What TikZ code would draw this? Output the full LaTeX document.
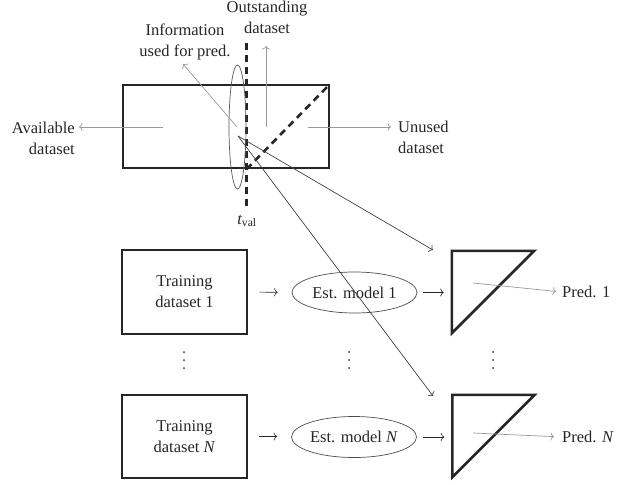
\documentclass[tikz,border=0pt]{standalone}
\usepackage{amsmath}
\usepackage{fontspec}
\setmainfont{Liberation Serif}
\usetikzlibrary{arrows.meta,shapes.geometric}
\begin{document}
\begin{tikzpicture}[x=1pt,y=-1pt,
  every node/.style={font=\fontsize{16.5}{21}\selectfont, text=black!85},
  thickbox/.style={draw=black!85, line width=2.6pt, rectangle, inner sep=0pt, align=center},
  txt/.style={inner sep=0pt, align=center},
  garrow/.style={draw=black!40, line width=0.7pt, -{To[length=3.5pt,width=8pt]}},
  karrow/.style={draw=black!75, line width=0.7pt, -{To[length=3.5pt,width=8pt]}},
  flowarrow/.style={draw=black!85, line width=0.6pt, -{To[length=3.5pt,width=8pt]}},
  dashline/.style={draw=black!85, line width=2.6pt, dash pattern=on 7pt off 5pt},
  estell/.style={draw=black!70, line width=0.7pt, ellipse, inner sep=0pt, minimum width=125pt, minimum height=41pt},
  trinode/.style={rectangle, inner sep=0pt, minimum width=82pt, minimum height=82pt},
  tri/.style={draw=black!85, line width=2.6pt, line join=miter},
  dotmark/.style={fill=black!80, circle, inner sep=0pt, minimum size=2pt}
]
\useasboundingbox (0,0) rectangle (628,484);

% top part
\node[thickbox, minimum width=206pt, minimum height=83pt] (data) at (226,126.5) {};
\coordinate (vtop) at (246.5,43);
\coordinate (vbot) at (246.5,210);
\draw[dashline] (vtop) -- (vbot);
\draw[dashline] (vtop |- data.south) -- (data.north east);
\node[draw=black!65, line width=0.7pt, ellipse, inner sep=0pt, minimum width=17pt, minimum height=124pt] (infoe) at (237.5,127) {};
\node[txt] (tval) at (247,221) {$\textit{t}_{\text{val}}$};

\node[txt, align=right, anchor=east] (avail) at (75,138) {Available\\dataset};
\node[txt, align=left, anchor=west] (unused) at (398,137.5) {Unused\\dataset};
\node[txt] (outs) at (267,17) {Outstanding\\dataset};
\node[txt] (info) at (185,42) {Information\\used for pred.};

\coordinate (aS) at (163,127);
\coordinate (aE) at (79,127);
\coordinate (uS) at (308,127);
\coordinate (uE) at (391,127);
\coordinate (oS) at (266,127);
\coordinate (oE) at (266,46);
\coordinate (iS) at (237,127);
\coordinate (iE) at (183,64);
\draw[garrow] (aS) -- (aE);
\draw[garrow] (uS) -- (uE);
\draw[garrow] (oS) -- (oE);
\draw[garrow] (iS) -- (iE);

% bottom part
\node[thickbox, minimum width=125pt, minimum height=84pt] (train1) at (184.5,292) {Training\\dataset 1};
\node[thickbox, minimum width=125pt, minimum height=83pt] (trainN) at (184.5,436.5) {Training\\dataset \textit{N}};
\node[estell] (est1) at (354.5,292.5) {Est. model 1};
\node[estell] (estN) at (354,437) {Est. model \textit{N}};
\node[trinode] (tri1) at (493,292) {};
\node[trinode] (triN) at (493.5,436) {};
\draw[tri] (tri1.north west) -- (tri1.north east) -- (tri1.south west) -- cycle;
\draw[tri] (triN.north west) -- (triN.north east) -- (triN.south west) -- cycle;

\draw[flowarrow, shorten <=11pt, shorten >=14pt] (train1.east) -- (est1.west);
\draw[flowarrow, shorten <=11pt, shorten >=14pt] (trainN.east) -- (estN.west |- trainN.east);
\draw[flowarrow, shorten <=6pt, shorten >=8pt] (est1.east) -- (tri1.west |- est1.east);
\draw[flowarrow, shorten <=6pt, shorten >=8pt] (estN.east) -- (triN.west |- estN.east);

\node[txt, anchor=west] (pred1) at (562,292) {Pred. 1};
\node[txt, anchor=west] (predN) at (562,437) {Pred. \textit{N}};
\coordinate (p1S) at (473,283);
\coordinate (pNS) at (473,433);
\draw[garrow, shorten >=6pt] (p1S) -- (pred1.west);
\draw[garrow, shorten >=8pt] (pNS) -- (predN.west);

% vertical dots
\foreach \x/\n in {184/a, 349/b, 493/c}{
  \foreach \y/\m in {352/1, 360/2, 368/3}{
    \node[dotmark] (dot\n\m) at (\x,\y) {};
  }
}

% connectors from the information point
\coordinate (src) at (238,136);
\coordinate (in1) at (433,250);
\coordinate (inN) at (433,396);
\draw[karrow] (src) -- (in1);
\draw[karrow] (src) -- (inN);
\end{tikzpicture}
\end{document}
